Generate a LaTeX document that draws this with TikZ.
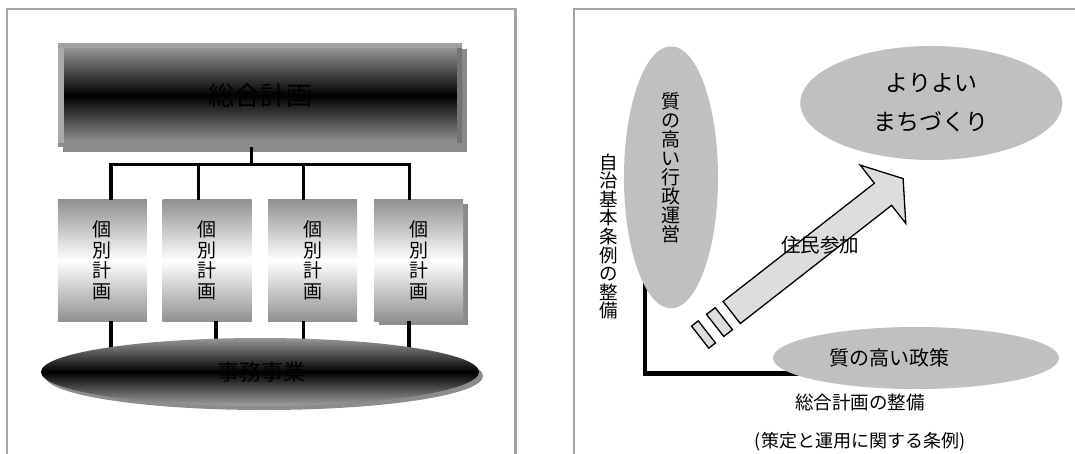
\documentclass[tikz,border=0pt]{standalone}
\usepackage{fontspec}
\setmainfont{Noto Sans CJK JP}
\usetikzlibrary{shapes.geometric,shadows,calc}

\definecolor{framegray}{RGB}{165,165,165}
\definecolor{edgegray}{RGB}{160,160,160}
\definecolor{boxgray}{RGB}{145,145,145}
\definecolor{ovalgray}{RGB}{192,192,192}
\definecolor{arrowgray}{RGB}{220,222,222}
\definecolor{shadegray}{RGB}{140,140,140}

\tikzset{
  frameline/.style={draw=framegray,line width=2.5pt},
  tie/.style={line width=3.3pt},
  lline/.style={line width=4.5pt},
  mainplan/.style={rectangle,minimum width=404pt,minimum height=103pt,inner sep=0pt,
    top color=edgegray,bottom color=edgegray,middle color=black,
    font=\fontsize{26}{26}\selectfont},
  subplan/.style={rectangle,minimum width=89pt,minimum height=121pt,inner sep=0pt,
    top color=boxgray,bottom color=boxgray,middle color=white,align=center,
    font=\fontsize{19}{20.5}\selectfont},
  work/.style={ellipse,minimum width=438pt,minimum height=68pt,inner sep=0pt,
    top color=edgegray!110,bottom color=edgegray,middle color=black,
    drop shadow={shadow xshift=4pt,shadow yshift=-4pt,fill=shadegray,opacity=1}},
  oval/.style={ellipse,fill=ovalgray,inner sep=0pt},
  flow/.style={draw=black,fill=arrowgray,line width=1.3pt,line join=miter},
  tate/.style={align=center,inner sep=0pt}
}

\begin{document}
\begin{tikzpicture}[x=1pt,y=-1pt]
\useasboundingbox (0,0) rectangle (1075,454);
\fill[white] (0,0) rectangle (1075,454);

% two panels
\draw[frameline] (7,458) |- (515.5,9) -- (515.5,458);
\draw[frameline] (574,458) |- (1079,9);

% left panel
\node[mainplan,drop shadow={shadow xshift=5pt,shadow yshift=-5pt,fill=shadegray,opacity=1}] (plan) at (260.2,95.5) {総合計画};
\fill[edgegray!90] (plan.north west) rectangle ([xshift=6pt]plan.south west);
\fill[black!55] ([xshift=-5pt]plan.north east) rectangle (plan.south east);
\fill[edgegray] (plan.north west) rectangle ([yshift=-4pt]plan.north east);
\fill[black!45] ([yshift=4pt]plan.south west) rectangle (plan.south east);

\foreach \x [count=\i] in {102.3,207.2,312.5}
  \node[subplan] (sub\i) at (\x,260.5) {個\\別\\計\\画};
\node[subplan,drop shadow={shadow xshift=5pt,shadow yshift=-4pt,fill=shadegray,opacity=1}] (sub4) at (418.5,260.5) {個\\別\\計\\画};

\coordinate (bus) at (251.3,164.3);
\draw[tie] (bus |- plan.south) -- (bus);
\draw[tie] ([xshift=8.7pt]sub1.north) |- (bus) -| ([xshift=-9.2pt]sub4.north);
\foreach \i in {2,3}
  \draw[tie] ([xshift=-9pt]sub\i.north) -- ([xshift=-9pt]sub\i.north |- bus);

\coordinate (workc) at (260,372);
\draw[tie] ([xshift=8.7pt]sub1.south) -- ([xshift=8.7pt]sub1.south |- workc);
\draw[tie] ([xshift=8.8pt]sub2.south) -- ([xshift=8.8pt]sub2.south |- workc);
\draw[tie] ([xshift=-8.8pt]sub3.south) -- ([xshift=-8.8pt]sub3.south |- workc);
\draw[tie] ([xshift=-9.5pt]sub4.south) -- ([xshift=-9.5pt]sub4.south |- workc);
\node[work] (work) at (workc) {};
\node[font=\fontsize{22}{22}\selectfont] at ([xshift=1pt]work.center) {事務事業};

% right panel
\coordinate (adminc) at (671,177.3);
\coordinate (policyc) at (916,358);
\coordinate (bend) at (645,373.5);
\draw[lline] (bend |- adminc) -- (bend) -- (bend -| policyc);

\node[oval,minimum width=94pt,minimum height=262pt] (admin) at (adminc) {};
\node[tate,font=\fontsize{19}{19}\selectfont] at ([yshift=9.5pt]admin.center) {質\\の\\高\\い\\行\\政\\運\\営};
\node[tate,font=\fontsize{18.5}{18.6}\selectfont] (base) at (608.5,236.5) {自\\治\\基\\本\\条\\例\\の\\整\\備};

\node[oval,minimum width=262pt,minimum height=114pt,align=center,
  font=\fontsize{23}{39}\selectfont] (goal) at (931.3,103) {よりよい\\まちづくり};

\node[oval,minimum width=286pt,minimum height=62pt] (policy) at (policyc) {};
\node[font=\fontsize{20}{20}\selectfont] at ([xshift=-27pt]policy.center) {質の高い政策};

\begin{scope}[shift={(731.7,312.5)},rotate=38]
  \draw[flow] (0,-14) -- (192,-14) -- (192,-37) -- (217.5,0) -- (192,37) -- (192,14) -- (0,14) -- cycle;
  \draw[flow] (-21,-14) rectangle (-10,14);
  \draw[flow] (-40,-14) rectangle (-31.5,14);
\end{scope}
\node[font=\fontsize{19.5}{19.5}\selectfont] (join) at (820,245) {住民参加};

\node[font=\fontsize{18.5}{18.5}\selectfont] (plandoc) at (860,402) {総合計画の整備};
\node[font=\fontsize{18}{18}\selectfont] (rule) at (860,442) {(策定と運用に関する条例)};
\end{tikzpicture}
\end{document}
